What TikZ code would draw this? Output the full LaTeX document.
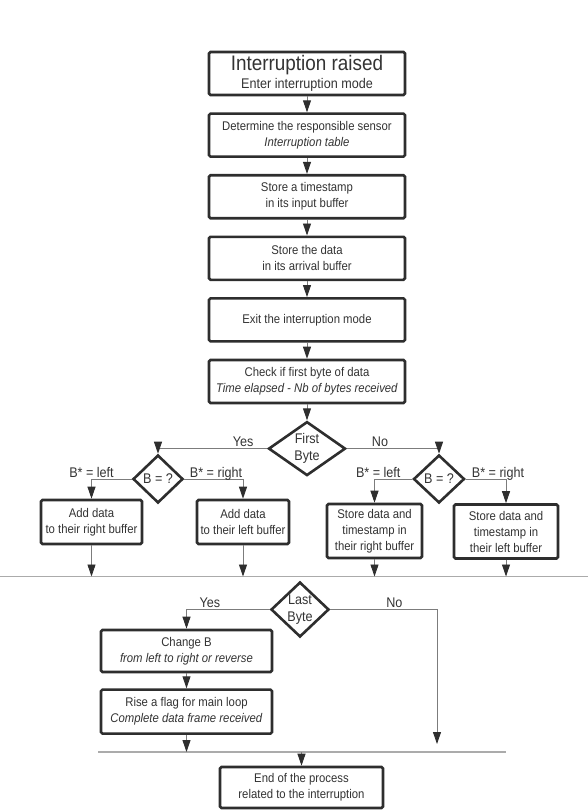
\documentclass[tikz,border=0pt]{standalone}
\usepackage{fontspec}
\setmainfont{Liberation Sans}[FakeStretch=0.9]
\usepackage{xcolor}
\usepackage{tikz}
\usetikzlibrary{arrows.meta}
\usetikzlibrary{shapes.geometric}
\usetikzlibrary{positioning}
\definecolor{boxline}{HTML}{2E2E2E}
\definecolor{flowline}{HTML}{7C7C7C}
\definecolor{busline}{HTML}{ABABAB}
\definecolor{txt}{HTML}{333333}
\tikzset{
	myflow/.style = {
		x=1pt, y=-1pt, node distance=16pt, text=txt,
		font=\fontsize{12.6}{16}\selectfont,
	},
	process/.style = {
		draw=boxline, line width=2.6pt, fill=white, align=center,
		rounded corners=1.5pt, minimum width=196pt, minimum height=43pt, inner sep=3pt,
	},
	decision/.style = {
		diamond, draw=boxline, line width=2.6pt, fill=white, align=center,
		inner sep=-2pt, font=\fontsize{14}{17}\selectfont,
	},
	flow/.style = {
		draw=flowline, line width=0.9pt,
		-{Triangle[width=8pt,length=12pt,color=boxline]},
	},
	bus/.style = {draw=busline, line width=1.6pt},
	answer/.style = {font=\fontsize{14}{16}\selectfont, inner sep=1.5pt, text depth=0pt},
}

\begin{document}
\begin{tikzpicture}[myflow]
		\useasboundingbox (0,0) rectangle (588,811);
		\node[process] (irq) at (307,73.5) {{\fontsize{21}{24}\selectfont Interruption raised}\\[2pt]{\fontsize{14}{18}\selectfont Enter interruption mode}};
		\node[process] (sensor) [below=of irq] {Determine the responsible sensor\\\textit{Interruption table}};
		\node[process] (stamp) [below=of sensor] {Store a timestamp\\in its input buffer};
		\node[process] (arrival) [below=of stamp] {Store the data\\in its arrival buffer};
		\node[process] (exit) [below=of arrival] {Exit the interruption mode};
		\node[process] (check) [below=of exit] {Check if first byte of data\\\textit{Time elapsed - Nb of bytes received}};
		\node[decision, minimum width=77pt, minimum height=54pt] (first) [below=of check] {First\\Byte};
		
		\node[decision, minimum width=50pt, minimum height=48pt] (bleft) at (158,479) {B = ?};
		\node[decision, minimum width=51pt, minimum height=48pt] (bright) at (439,479) {B = ?};
		\node[process, minimum width=101pt, minimum height=44pt] (addright) at (91.5,522) {Add data\\to their right buffer};
		\node[process, minimum width=92pt, minimum height=44pt] (addleft) at (243,522) {Add data\\to their left buffer};
		\node[process, minimum width=95pt, minimum height=54pt] (storeright) at (374.5,531) {Store data and\\timestamp in\\their right buffer};
		\node[process, minimum width=104pt, minimum height=54pt] (storeleft) at (506,531.5) {Store data and\\timestamp in\\their left buffer};
		
		\coordinate (bus1w) at (0,576.5);
		\coordinate (bus1e) at (588,576.5);
		\node[decision, minimum width=58pt, minimum height=55pt] (last) at (300,609.5) {Last\\Byte};
		\node[process, minimum width=171pt, minimum height=42pt] (change) at (186.5,651) {Change B\\\textit{from left to right or reverse}};
		\node[process, minimum width=171pt, minimum height=44pt] (flag) [below=15pt of change] {Rise a flag for main loop\\\textit{Complete data frame received}};
		\coordinate (noend) at (437,744);
		\coordinate (bus2w) at (98,752);
		\coordinate (bus2e) at (506,752);
		\node[process, minimum width=163pt, minimum height=41pt] (finish) at (301.5,787.5) {End of the process\\related to the interruption};
		
		\draw[flow] (irq) -- (sensor);
		\draw[flow] (sensor) -- (stamp);
		\draw[flow] (stamp) -- (arrival);
		\draw[flow] (arrival) -- (exit);
		\draw[flow] (exit) -- (check);
		\draw[flow] (check) -- (first);
		\draw[flow] (first.west) -| node[answer, above, pos=0.11] {Yes} (bleft.north);
		\draw[flow] (first.east) -| node[answer, above, pos=0.18] {No} (bright.north);
		\draw[flow] (bleft.west) -| node[answer, above, pos=0.5] {B* = left} (addright.north);
		\draw[flow] (bleft.east) -| node[answer, above, pos=0.27] {B* = right} (addleft.north);
		\draw[flow] (bright.west) -| node[answer, above, pos=0.45] {B* = left} (storeright.north);
		\draw[flow] (bright.east) -| node[answer, above, pos=0.4] {B* = right} (storeleft.north);
		
		\draw[bus] (bus1w) -- (bus1e);
		\draw[flow] (addright.south) -- (addright.south |- bus1w);
		\draw[flow] (addleft.south) -- (addleft.south |- bus1w);
		\draw[flow] (storeright.south) -- (storeright.south |- bus1w);
		\draw[flow] (storeleft.south) -- (storeleft.south |- bus1w);
		
		\draw[flow] (last.west) -| node[answer, above, pos=0.36] {Yes} (change.north);
		\draw[flow] (last.east) -| node[answer, above, pos=0.3] {No} (noend);
		\draw[flow] (change) -- (flag);
		\draw[bus] (bus2w) -- (bus2e);
		\draw[flow] (flag.south) -- (flag.south |- bus2w);
		\draw[flow] (finish.north |- bus2w) -- (finish.north);
	\end{tikzpicture}
\end{document}
